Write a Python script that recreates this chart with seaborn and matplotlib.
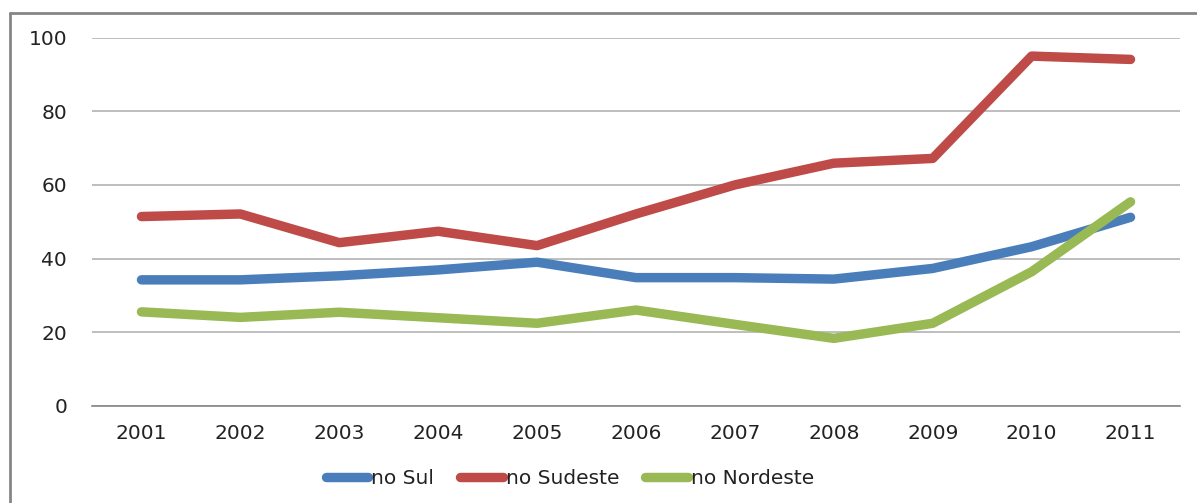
import numpy as np
import pandas as pd
import seaborn as sns
import matplotlib.pyplot as plt
from matplotlib.lines import Line2D

years = ['2001', '2002', '2003', '2004', '2005', '2006',
         '2007', '2008', '2009', '2010', '2011']
sul = [34.2, 34.2, 35.3, 36.9, 39.0, 34.8, 34.8, 34.4, 37.3, 43.2, 51.2]
sudeste = [51.4, 52.1, 44.3, 47.4, 43.5, 52.1, 60.0, 65.9, 67.2, 95.0, 94.1]
nordeste = [25.5, 24.0, 25.4, 23.9, 22.4, 26.0, 22.1, 18.3, 22.4, 36.4, 55.4]
series_names = ['no Sul', 'no Sudeste', 'no Nordeste']
colors = ['#4a7ebb', '#be4b48', '#98b954']

df = pd.DataFrame({'ano': years, 'no Sul': sul, 'no Sudeste': sudeste,
                   'no Nordeste': nordeste})
long_df = df.melt(id_vars='ano', var_name='regiao', value_name='valor')

sns.set_style('white')
plt.rcParams['font.family'] = ['DejaVu Sans']

fig = plt.figure(figsize=(11.97, 5.03), dpi=100)
ax = fig.add_axes([92 / 1197, 1 - 405.7 / 503, (1180 - 92) / 1197, 368 / 503])

sns.lineplot(data=long_df, x='ano', y='valor', hue='regiao',
             hue_order=series_names, palette=colors, linewidth=6.8,
             sort=False, ax=ax, legend=False)
for line in ax.lines:
    line.set_solid_capstyle('round')
    line.set_solid_joinstyle('round')

ax.set_xlim(-0.5, len(years) - 0.5)
ax.set_ylim(0, 100)
ax.set_yticks(np.arange(0, 101, 20))
ax.set_xlabel('')
ax.set_ylabel('')
ax.yaxis.grid(True, color='#b3b3b3', linewidth=1.2)
ax.set_axisbelow(True)
for side in ['left', 'right', 'top']:
    ax.spines[side].set_visible(False)
ax.spines['bottom'].set_color('#868686')
ax.spines['bottom'].set_linewidth(1.2)
ax.tick_params(axis='both', length=0, labelsize=14.5, colors='#222222')
ax.tick_params(axis='x', pad=13)
ax.tick_params(axis='y', pad=18)

handles = [Line2D([], [], color=c, linewidth=6.8, solid_capstyle='round')
           for c in colors]
fig.legend(handles, series_names, loc='center', ncol=3,
           bbox_to_anchor=(570 / 1197, 1 - 479 / 503), frameon=False,
           fontsize=14.5, handlelength=2.1, handletextpad=0.15,
           columnspacing=1.3, labelcolor='#222222')

# chart area border (top and left edges only are visible)
fig.add_artist(Line2D([10 / 1197, 1], [1 - 13 / 503, 1 - 13 / 503],
                      transform=fig.transFigure, color='#868686', linewidth=2))
fig.add_artist(Line2D([10 / 1197, 10 / 1197], [0, 1 - 13 / 503],
                      transform=fig.transFigure, color='#868686', linewidth=2))

fig.savefig('out.png', dpi=100)
